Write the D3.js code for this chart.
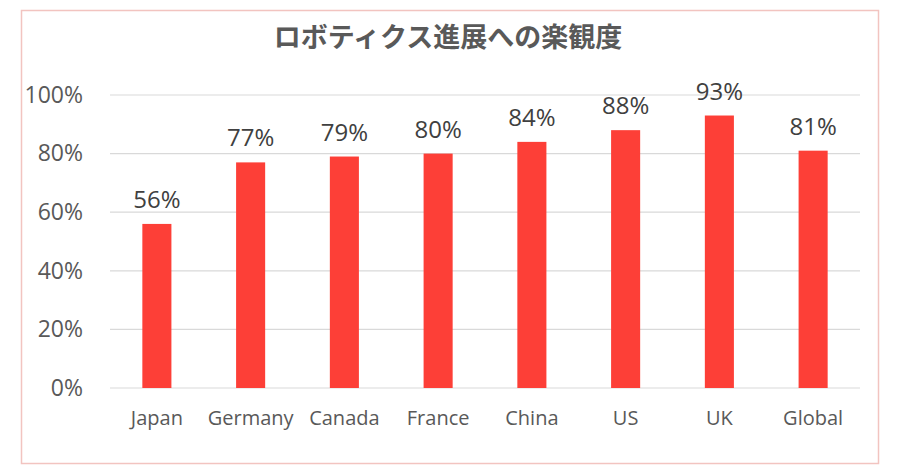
<!DOCTYPE html>
<html>
<head>
<meta charset="utf-8">
<script src="https://cdn.jsdelivr.net/npm/d3@7"></script>
<style>
  body { margin: 0; background: #fff; }
  svg { display: block; }
</style>
</head>
<body>
<div id="chart"></div>
<script>
var countries = ["Japan", "Germany", "Canada", "France", "China", "US", "UK", "Global"];
var optimism = [56, 77, 79, 80, 84, 88, 93, 81];
var yTicks = [0, 20, 40, 60, 80, 100];
var title = "ロボティクス進展への楽観度";

var w = 900, h = 472;
var margin = { top: 95, right: 40, bottom: 84, left: 110 };

var svg = d3.select("#chart")
    .append("svg")
    .attr("width", w)
    .attr("height", h);

// frame
svg.append("rect")
    .attr("x", 21.5).attr("y", 10.5)
    .attr("width", 857).attr("height", 453)
    .style("fill", "none")
    .style("stroke", "#f2c4c0")
    .style("stroke-width", 1.5);

svg.append("text")
    .attr("x", 448).attr("y", 47)
    .attr("text-anchor", "middle")
    .style("font-family", "'Noto Sans CJK JP', sans-serif")
    .style("font-weight", "bold")
    .style("font-size", "27px")
    .style("fill", "#595959")
    .text(title);

var x = d3.scaleBand()
    .domain(countries)
    .range([margin.left, w - margin.right])
    .paddingInner(0.69)
    .paddingOuter(0.345);

var y = d3.scaleLinear()
    .domain([0, 100])
    .range([h - margin.bottom, margin.top]);

// gridlines
svg.append("g")
    .selectAll("line")
    .data(yTicks)
    .enter()
    .append("line")
    .attr("x1", margin.left)
    .attr("x2", w - margin.right)
    .attr("y1", function(d) { return y(d); })
    .attr("y2", function(d) { return y(d); })
    .style("stroke", "#d9d9d9")
    .style("stroke-width", 1.2);

var yAxis = d3.axisLeft(y)
    .tickValues(yTicks)
    .tickFormat(function(d) { return d + "%"; })
    .tickSize(0)
    .tickPadding(27);

svg.append("g")
    .attr("transform", "translate(" + margin.left + ",0)")
    .call(yAxis)
    .call(function(g) { g.select(".domain").remove(); })
    .selectAll("text")
    .style("font-family", "'Open Sans', sans-serif")
    .style("font-size", "23px")
    .style("fill", "#595959");

var xAxis = d3.axisBottom(x).tickSize(0).tickPadding(23);

svg.append("g")
    .attr("transform", "translate(0," + y(0) + ")")
    .call(xAxis)
    .call(function(g) { g.select(".domain").remove(); })
    .selectAll("text")
    .style("font-family", "'Open Sans', sans-serif")
    .style("font-size", "20px")
    .style("fill", "#595959");

var data = countries.map(function(c, i) { return { name: c, value: optimism[i] }; });

svg.append("g")
    .selectAll("rect")
    .data(data)
    .enter()
    .append("rect")
    .attr("x", function(d) { return x(d.name); })
    .attr("y", function(d) { return y(d.value); })
    .attr("width", x.bandwidth())
    .attr("height", function(d) { return y(0) - y(d.value); })
    .style("fill", "#fd3f37");

svg.append("g")
    .selectAll("text")
    .data(data)
    .enter()
    .append("text")
    .attr("x", function(d) { return x(d.name) + x.bandwidth() / 2; })
    .attr("y", function(d) { return y(d.value) - 16; })
    .attr("text-anchor", "middle")
    .style("font-family", "'Open Sans', sans-serif")
    .style("font-size", "24px")
    .style("fill", "#404040")
    .text(function(d) { return d.value + "%"; });
</script>
</body>
</html>
